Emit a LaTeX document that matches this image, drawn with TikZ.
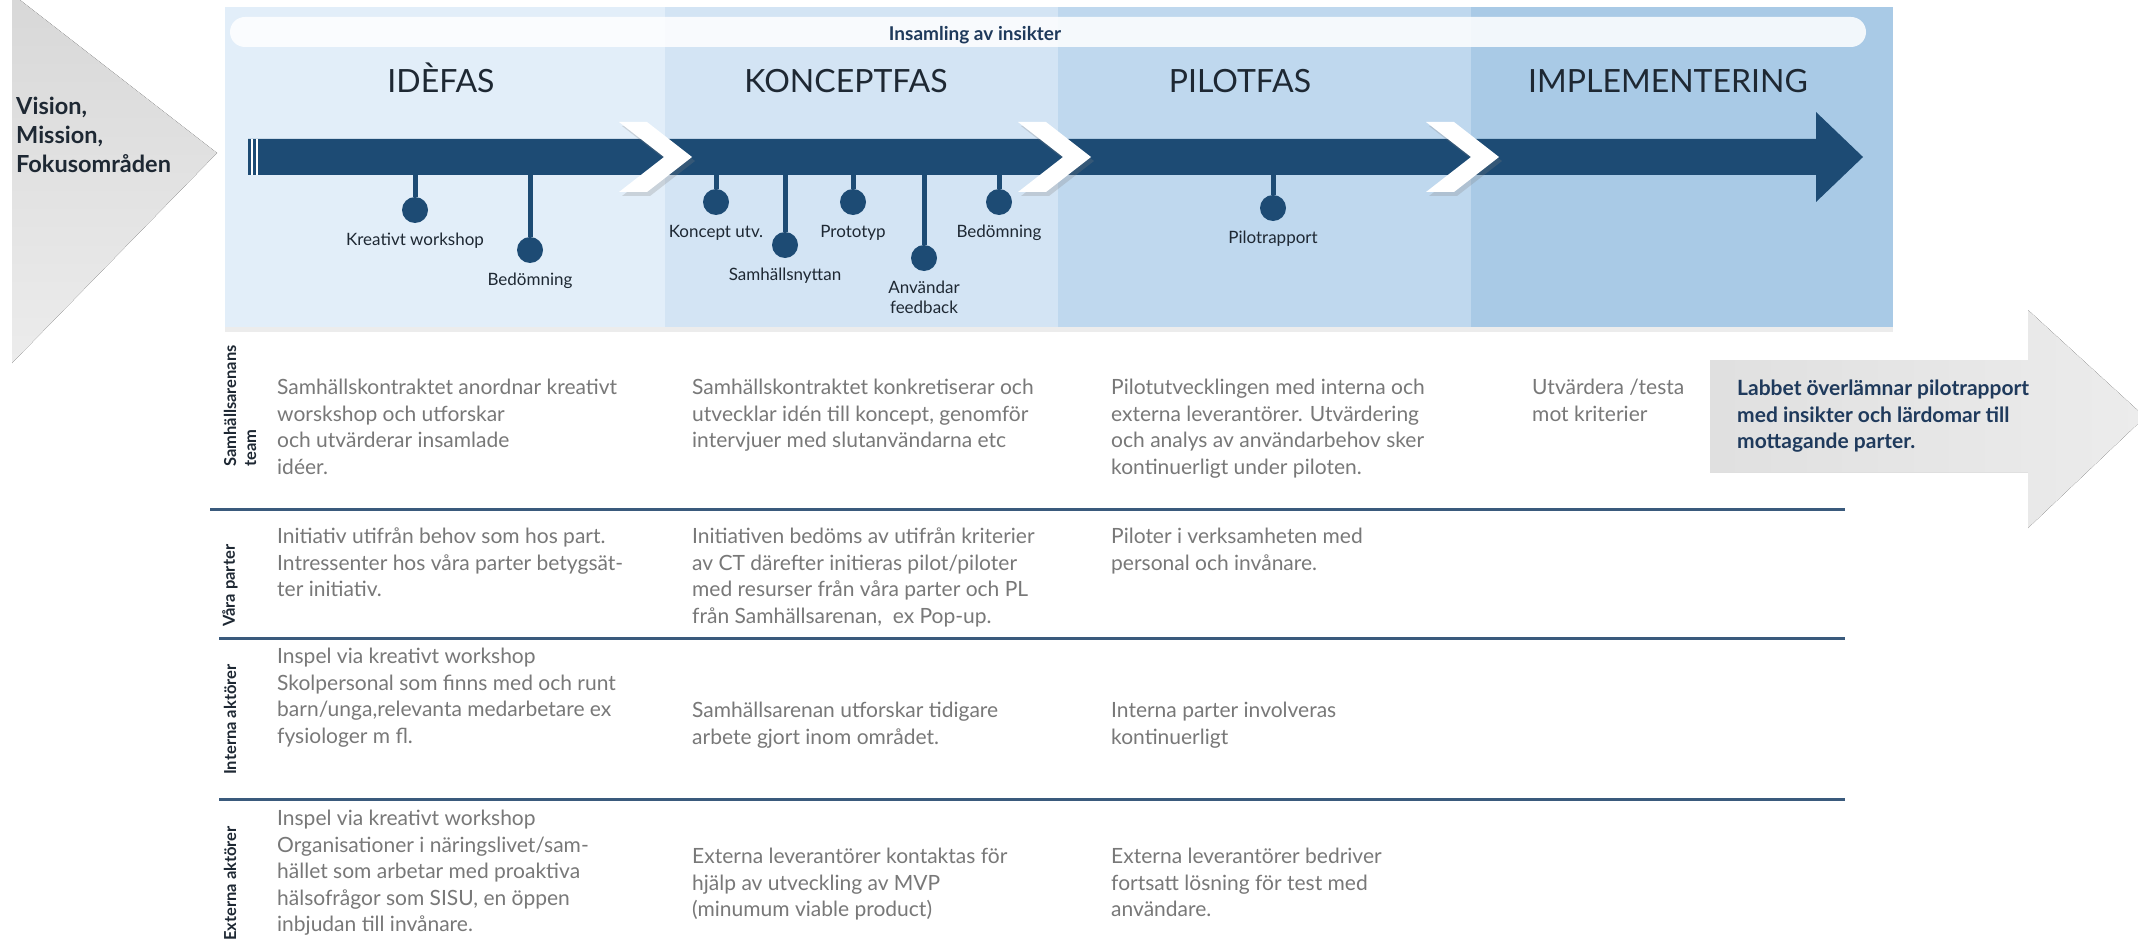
\documentclass[tikz,border=0pt]{standalone}
\usepackage{fontspec}
\setmainfont{Lato}
\usepackage{tikz}
\usetikzlibrary{positioning,shadows}

\definecolor{navy}{HTML}{1D4B74}
\definecolor{ink}{HTML}{1E2833}
\definecolor{boldnavy}{HTML}{1F3A5C}
\definecolor{txtgray}{HTML}{787878}
\definecolor{rulecol}{HTML}{3A5A7C}
\definecolor{phaseA}{HTML}{E2EEF9}
\definecolor{phaseB}{HTML}{D3E4F4}
\definecolor{phaseC}{HTML}{BFD8EE}
\definecolor{phaseD}{HTML}{A9CAE6}
\definecolor{fogA}{HTML}{D8D8D8}
\definecolor{fogB}{HTML}{ECECEC}

\begin{document}
\begin{tikzpicture}[x=1pt,y=-1pt,node distance=10pt]
  \tikzstyle{phase}=[font=\fontsize{32}{38}\selectfont,text=ink,anchor=base]
  \tikzstyle{dot}=[circle,fill=navy,minimum size=26pt,inner sep=0pt]
  \tikzstyle{stem}=[draw=navy,line width=5pt]
  \tikzstyle{mlabel}=[font=\fontsize{17}{20}\selectfont,text=ink,inner sep=0pt,align=center]
  \tikzstyle{cell}=[font=\fontsize{21}{26.5}\selectfont,text=txtgray,inner sep=0pt,anchor=north west,align=left]
  \tikzstyle{rowlabel}=[font=\bfseries\fontsize{16.5}{20}\selectfont,text=ink,inner sep=0pt,rotate=90,anchor=west,align=left]
  \tikzstyle{rule}=[draw=rulecol,line width=3pt]
  \tikzstyle{soft}=[drop shadow={shadow xshift=3pt,shadow yshift=-4pt,opacity=.25}]

  \fill[white,use as bounding box] (0,0) rectangle (2138,944);

  \fill[top color=fogA,bottom color=fogB] (12,0) -- (20,0) -- (217,153) -- (12,363) -- cycle;
  \node[font=\bfseries\fontsize{23.5}{29}\selectfont,text=ink,align=left,anchor=north west,inner sep=0pt] (vision) at (16,97) {Vision,\\Mission,\\Fokusområden};

  \fill[phaseA,drop shadow={shadow xshift=0pt,shadow yshift=-5pt,opacity=.15}] (225,7) rectangle (1893,327);
  \fill[phaseB] (665,7) rectangle (1058,327);
  \fill[phaseC] (1058,7) rectangle (1471,327);
  \fill[phaseD] (1471,7) rectangle (1893,327);
  \fill[white,opacity=.85,rounded corners=15pt] (230,17) rectangle (1866,47);
  \node[font=\bfseries\fontsize{19}{22}\selectfont,text=boldnavy,anchor=base] (insikt) at (975,41) {Insamling av insikter};

  \node[phase] (ide) at (441,93) {IDÈFAS};
  \node[phase] (koncept) at (846,93) {KONCEPTFAS};
  \node[phase] (pilot) at (1240,93) {PILOTFAS};
  \node[phase] (impl) at (1668,93) {IMPLEMENTERING};

  \fill[navy] (248,139) -- (1816,139) -- (1816,112) -- (1863,157) -- (1816,202) -- (1816,175) -- (248,175) -- cycle;
  \draw[white,line width=2pt] (252,139) -- (252,175) (257,139) -- (257,175);
  \coordinate (bar) at (0,175);
  \foreach \t in {692,1091,1499}
    \fill[white,soft] ({\t-73},122) -- ({\t-45},122) -- (\t,157) -- ({\t-45},192) -- ({\t-73},192) -- ({\t-28},157) -- cycle;

  \node[dot] (m1) at (415,210) {};
  \node[dot] (m2) at (530,250) {};
  \node[dot] (m3) at (716,202) {};
  \node[dot] (m4) at (785,245) {};
  \node[dot] (m5) at (853,202) {};
  \node[dot] (m6) at (924,258) {};
  \node[dot] (m7) at (999,202) {};
  \node[dot] (m8) at (1273,208) {};
  \foreach \m in {m1,m2,m3,m4,m5,m6,m7,m8}
    \draw[stem] (\m |- bar) -- (\m);

  \node[mlabel,below=of m1] (l1) {Kreativt workshop};
  \node[mlabel,below=of m2] (l2) {Bedömning};
  \node[mlabel,below=of m3] (l3) {Koncept utv.};
  \node[mlabel,below=of m4] (l4) {Samhällsnyttan};
  \node[mlabel,below=of m5] (l5) {Prototyp};
  \node[mlabel,below=of m6] (l6) {Användar\\feedback};
  \node[mlabel,below=of m7] (l7) {Bedömning};
  \node[mlabel,below=of m8] (l8) {Pilotrapport};

  \fill[left color=fogA!80!white,right color=fogB] (1710,360) -- (2028,360) -- (2028,310) -- (2145,417) -- (2028,528) -- (2028,472) -- (1710,472) -- cycle;

  \node[rowlabel] (r1) at (240,467) {Samhällsarenans\\team};
  \node[rowlabel] (r2) at (230,627) {Våra parter};
  \node[rowlabel] (r3) at (230,775) {Interna aktörer};
  \node[rowlabel] (r4) at (230,941) {Externa aktörer};

  \draw[rule] (210,509) -- (1845,509);
  \draw[rule] (219,638) -- (1845,638);
  \draw[rule] (219,799) -- (1845,799);

  \node[cell] (c11) at (277,379) {Samhällskontraktet anordnar kreativt\\worskshop och utforskar\\och utvärderar insamlade\\idéer.};
  \node[cell] (c12) at (692,379) {Samhällskontraktet konkretiserar och\\utvecklar idén till koncept, genomför\\intervjuer med slutanvändarna etc};
  \node[cell] (c13) at (1111,379) {Pilotutvecklingen med interna och\\externa leverantörer. Utvärdering\\och analys av användarbehov sker\\kontinuerligt under piloten.};
  \node[cell] (c14) at (1532,379) {Utvärdera /testa\\mot kriterier};
  \node[cell,font=\bfseries\fontsize{21}{26.5}\selectfont,text=boldnavy] (c15) at (1737,380) {Labbet överlämnar pilotrapport\\med insikter och lärdomar till\\mottagande parter.};

  \node[cell] (c21) at (277,528) {Initiativ utifrån behov som hos part.\\Intressenter hos våra parter betygsät-\\ter initiativ.};
  \node[cell] (c22) at (692,528) {Initiativen bedöms av utifrån kriterier\\av CT därefter initieras pilot/piloter\\med resurser från våra parter och PL\\från Samhällsarenan,\ \ ex Pop-up.};
  \node[cell] (c23) at (1111,528) {Piloter i verksamheten med\\personal och invånare.};

  \node[cell] (c31) at (277,648) {Inspel via kreativt workshop\\Skolpersonal som finns med och runt\\barn/unga,relevanta medarbetare ex\\fysiologer m fl.};
  \node[cell] (c32) at (692,702) {Samhällsarenan utforskar tidigare\\arbete gjort inom området.};
  \node[cell] (c33) at (1111,702) {Interna parter involveras\\kontinuerligt};

  \node[cell] (c41) at (277,810) {Inspel via kreativt workshop\\Organisationer i näringslivet/sam-\\hället som arbetar med proaktiva\\hälsofrågor som SISU, en öppen\\inbjudan till invånare.};
  \node[cell] (c42) at (692,848) {Externa leverantörer kontaktas för\\hjälp av utveckling av MVP\\(minumum viable product)};
  \node[cell] (c43) at (1111,848) {Externa leverantörer bedriver\\fortsatt lösning för test med\\användare.};
\end{tikzpicture}
\end{document}
